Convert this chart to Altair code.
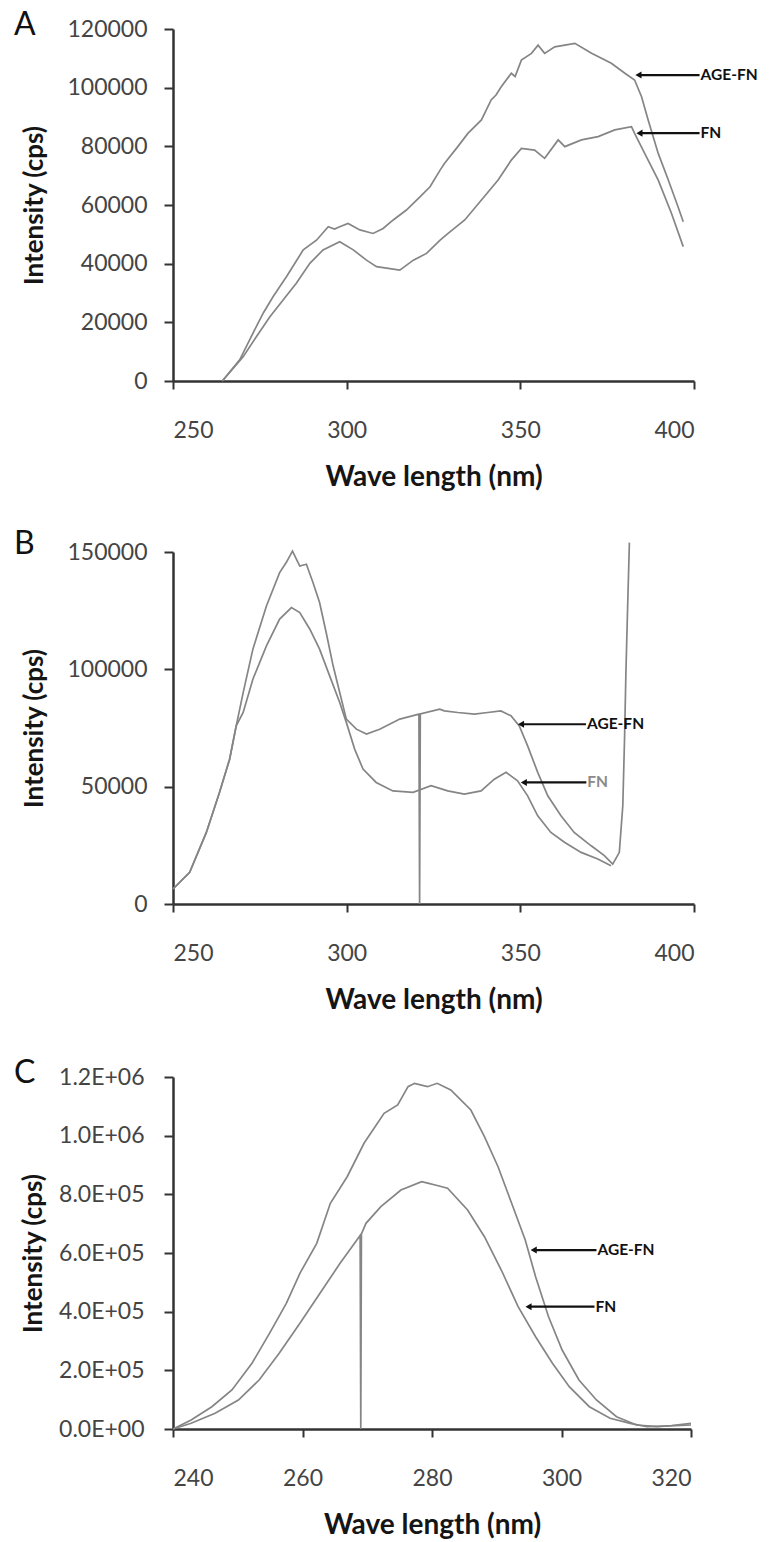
import altair as alt
import pandas as pd

FONT = "Lato"
LINE_COLOR = "#858585"

# ---------------- Panel A ----------------
a_age_wl = [264.2, 269.2, 273.5, 276.0, 278.8, 282.7, 287.5, 291.3, 294.7, 296.5, 298.0, 300.4,
            303.8, 307.6, 310.5, 313.4, 317.2, 321.1, 324.0, 326.9, 328.2, 332.0, 334.9, 338.8,
            341.6, 343.0, 344.5, 347.4, 348.5, 350.3, 353.2, 355.1, 357.0, 359.9, 365.7, 370.5,
            376.2, 380.1, 382.9, 384.9, 386.8, 389.7, 392.6, 395.4, 396.9]
a_age_in = [0, 7200, 17400, 23200, 28700, 35600, 44700, 48000, 52600, 51800, 52600, 53700,
            51500, 50300, 52000, 54900, 58300, 62800, 66200, 71900, 74200, 79900, 84400, 89000,
            95800, 97500, 100300, 104900, 103800, 109400, 111700, 114500, 111700, 113900, 115100, 111700,
            108300, 104900, 102600, 96900, 89000, 77600, 68500, 59400, 54300]
a_fn_wl = [264.2, 270.2, 274.0, 277.9, 281.7, 285.5, 289.4, 293.2, 298.0, 301.9, 305.7, 308.6,
           315.3, 319.2, 323.0, 326.9, 329.2, 334.0, 338.8, 343.6, 347.4, 350.3, 354.1, 357.0,
           360.9, 362.8, 367.6, 372.4, 377.2, 382.0, 382.9, 385.8, 389.7, 393.5, 396.9]
a_fn_in = [0, 8300, 15100, 21900, 27600, 33300, 40100, 44700, 47500, 44700, 41200, 39000,
           37800, 41200, 43500, 48000, 50300, 54900, 61700, 68500, 75300, 79300, 78700, 75900,
           82200, 79900, 82200, 83300, 85600, 86700, 84400, 77600, 68500, 57200, 45800]

# ---------------- Panel B ----------------
b_age_wl = [250.0, 254.8, 259.6, 263.4, 266.3, 268.2, 270.2, 273.0, 276.9, 280.7, 282.6, 284.4,
            286.5, 288.4, 290.3, 292.2, 294.1, 296.1, 298.0, 299.9, 302.8, 305.7, 309.5, 315.3,
            320.8, 321.0, 321.2, 326.8, 328.1, 332.0, 336.8, 340.6, 344.4, 347.3, 349.7, 352.1,
            355.0, 357.9, 361.7, 365.5, 370.4, 374.2, 376.6, 378.5, 379.5, 380.0, 380.4, 380.9, 381.4]
b_age_in = [6400, 13500, 30500, 47600, 61700, 75900, 90100, 108600, 127000, 141200, 145500, 150400,
            144000, 144800, 137000, 128500, 115700, 101500, 90100, 78800, 74500, 72400, 74500, 78800,
            80900, 0, 81000, 83000, 82300, 81600, 80900, 81600, 82300, 80200, 75900, 67400,
            56100, 46100, 37600, 30500, 24800, 20600, 17000, 22000, 41900, 70300, 98700, 127000, 154000]
b_fn_wl = [250.0, 254.8, 259.6, 263.4, 266.3, 268.2, 270.2, 273.0, 276.9, 280.7, 284.1, 286.5,
           289.4, 292.2, 295.1, 298.0, 299.9, 302.3, 304.7, 308.5, 313.3, 319.1, 324.3, 329.1,
           333.9, 338.7, 342.5, 345.9, 349.2, 352.1, 355.0, 358.8, 362.7, 367.5, 372.3, 376.1]
b_fn_in = [6400, 13500, 30500, 47600, 61700, 75900, 81600, 95800, 110000, 121400, 126300, 124200,
           117100, 108600, 97200, 85900, 77400, 66000, 57500, 51800, 48200, 47600, 50400, 48200,
           46800, 48200, 53200, 56100, 52500, 46100, 37600, 30500, 26300, 22000, 19200, 16300]

# ---------------- Panel C ----------------
c_age_wl = [240.0, 242.8, 246.0, 249.1, 252.2, 254.9, 257.5, 259.6, 262.2, 264.3, 266.9, 269.5,
            272.6, 274.7, 276.3, 277.3, 279.3, 280.8, 282.9, 286.0, 288.1, 290.2, 292.3, 294.4,
            296.0, 298.0, 300.1, 302.7, 305.4, 308.5, 311.6, 314.8, 317.0, 320.0]
c_age_in = [0, 30700, 76000, 133000, 224000, 326000, 428500, 530800, 633000, 769400, 860000, 974000,
            1076000, 1104500, 1167000, 1178500, 1167000, 1178500, 1155700, 1087500, 996500, 894200, 769400, 644300,
            519200, 382800, 269300, 167000, 98900, 41900, 13600, 7800, 12000, 19400]
c_fn_wl = [240.0, 242.8, 246.5, 250.1, 253.3, 256.4, 259.6, 262.7, 265.8, 268.4, 268.9, 269.0,
           269.1, 269.8, 272.1, 275.2, 278.4, 279.5, 280.5, 282.4, 285.5, 288.1, 290.7, 293.3,
           296.0, 298.6, 301.2, 304.3, 307.5, 310.6, 313.2, 316.0, 320.0]
c_fn_in = [0, 19400, 53500, 98900, 167000, 258000, 360300, 462600, 564900, 644300, 660000, 0,
           665000, 701200, 757800, 814800, 843000, 837600, 831800, 820600, 746600, 655600, 542000, 416900,
           314700, 224000, 144200, 76000, 36500, 19400, 7800, 10000, 13600]

# Annotations: label, y, arrow head wavelength, arrow tail wavelength, text colour
a_labels = ["AGE-FN", "FN"]
a_lab_y = [104300, 84500]
a_head = [384.0, 384.3]
a_tail = [401.6, 401.6]
a_col = ["#111111", "#111111"]

b_labels = ["AGE-FN", "FN"]
b_lab_y = [76600, 51800]
b_head = [350.2, 351.0]
b_tail = [368.9, 369.0]
b_col = ["#111111", "#8a8a8a"]

c_labels = ["AGE-FN", "FN"]
c_lab_y = [610000, 417000]
c_head = [295.7, 294.9]
c_tail = [305.4, 305.1]
c_col = ["#111111", "#111111"]


def curves_df(pairs):
    frames = []
    for name, wl, it in pairs:
        frames.append(pd.DataFrame({"wl": wl, "I": it, "s": name, "o": list(range(len(wl)))}))
    return pd.concat(frames, ignore_index=True)


def panel(letter, letter_x, letter_y, pairs, labels, lab_y, head, tail, cols,
          xdom, xticks, ydom, yticks, width, label_expr=None, ylab_pad=17, ytitle_pad=14):
    df = curves_df(pairs)
    ann = pd.DataFrame({"wl": head, "wl2": tail, "I": lab_y, "label": labels, "col": cols})

    yaxis_kw = dict(values=yticks, title="Intensity (cps)", tickSize=9, labelPadding=ylab_pad,
                    titlePadding=ytitle_pad, titleFontSize=26)
    if label_expr:
        yaxis_kw["labelExpr"] = label_expr
    else:
        yaxis_kw["format"] = "d"

    xenc = alt.X("wl:Q", scale=alt.Scale(domain=xdom, nice=False, zero=False),
                 axis=alt.Axis(values=xticks, title="Wave length (nm)", tickSize=8,
                               labelPadding=30, titlePadding=21, titleFontSize=28))
    yenc = alt.Y("I:Q", scale=alt.Scale(domain=ydom, nice=False), axis=alt.Axis(**yaxis_kw))

    lines = alt.Chart(df).mark_line(color=LINE_COLOR, strokeWidth=1.7, clip=False).encode(
        x=xenc, y=yenc, detail="s:N", order="o:Q")

    rules = alt.Chart(ann).mark_rule(color="#111111", strokeWidth=2.2).encode(
        x=xenc, x2="wl2:Q", y=yenc)
    heads = alt.Chart(ann).mark_point(shape="triangle-left", filled=True, size=50,
                                      color="#111111", opacity=1).encode(x=xenc, y=yenc)
    texts = alt.Chart(ann).mark_text(align="left", baseline="middle", dx=1, font=FONT,
                                     fontSize=15.5, fontWeight="bold").encode(
        x=alt.X("wl2:Q"), y=yenc, text="label:N",
        color=alt.Color("col:N", scale=None))

    let = alt.Chart(pd.DataFrame({"t": [letter]})).mark_text(
        align="left", baseline="middle", font=FONT, fontSize=32, color="#111111").encode(
        x=alt.value(letter_x), y=alt.value(letter_y), text="t:N")

    return alt.layer(lines, rules, heads, texts, let).properties(width=width, height=352)


pA = panel("A", -159, -4,
           [("AGE-FN", a_age_wl, a_age_in), ("FN", a_fn_wl, a_fn_in)],
           a_labels, a_lab_y, a_head, a_tail, a_col,
           [250, 400], [250, 300, 350, 400], [0, 120000],
           [0, 20000, 40000, 60000, 80000, 100000, 120000], 521, ytitle_pad=19)

pB = panel("B", -159, -8,
           [("AGE-FN", b_age_wl, b_age_in), ("FN", b_fn_wl, b_fn_in)],
           b_labels, b_lab_y, b_head, b_tail, b_col,
           [250, 400], [250, 300, 350, 400], [0, 150000],
           [0, 50000, 100000, 150000], 521, ytitle_pad=19)

pC = panel("C", -159, -4,
           [("AGE-FN", c_age_wl, c_age_in), ("FN", c_fn_wl, c_fn_in)],
           c_labels, c_lab_y, c_head, c_tail, c_col,
           [240, 320], [240, 260, 280, 300, 320], [0, 1200000],
           [0, 200000, 400000, 600000, 800000, 1000000, 1200000], 518,
           label_expr="replace(format(datum.value, '.1e'), 'e+', 'E+0')", ylab_pad=20,
           ytitle_pad=12)

inner = alt.concat(pB, pC, columns=1, spacing=41, align="none")
chart = alt.concat(pA, inner, columns=1, spacing=35, align="none").properties(
    padding={"left": 5, "top": 0, "right": 0, "bottom": 0},
    background="white",
).configure_view(stroke="transparent").configure_axis(
    grid=False,
    domainColor="#333333", domainWidth=2.5,
    tickColor="#333333", tickWidth=2,
    labelFont=FONT, labelFontSize=23, labelColor="#444444",
    titleFont=FONT, titleFontWeight="bold", titleColor="#151515",
)

chart.save("out.html", embed_options={"renderer": "svg", "actions": False})
